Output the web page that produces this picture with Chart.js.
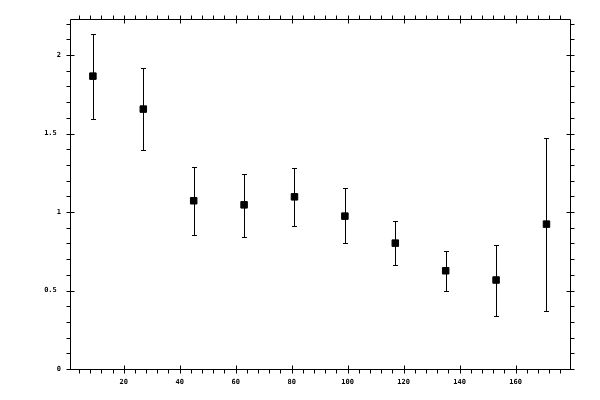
<!DOCTYPE html>
<html>
<head>
<meta charset="utf-8">
<script src="https://cdn.jsdelivr.net/npm/chart.js@4/dist/chart.umd.min.js"></script>
<style>
  html, body { margin: 0; padding: 0; background: #fff; }
  .canvas-container { width: 600px; height: 400px; }
</style>
</head>
<body>
<div class="canvas-container">
  <canvas id="chart"></canvas>
</div>
<script>
// values
const xValues = [9, 27, 45, 63, 81, 99, 117, 135, 153, 171];
const yValues = [1.866, 1.656, 1.072, 1.046, 1.097, 0.974, 0.802, 0.626, 0.567, 0.923];
const yHigh = [2.134, 1.917, 1.287, 1.242, 1.280, 1.153, 0.943, 0.751, 0.790, 1.471];
const yLow = [1.594, 1.395, 0.853, 0.841, 0.911, 0.802, 0.662, 0.497, 0.338, 0.369];

const xTicks = [20, 40, 60, 80, 100, 120, 140, 160];
const yTicks = [0, 0.5, 1, 1.5, 2];
const xMinor = [4, 8, 12, 16, 24, 28, 32, 36, 44, 48, 52, 56, 64, 68, 72, 76, 84, 88, 92, 96,
  104, 108, 112, 116, 124, 128, 132, 136, 144, 148, 152, 156, 164, 168, 172, 176];
const yMinor = [0.1, 0.2, 0.3, 0.4, 0.6, 0.7, 0.8, 0.9, 1.1, 1.2, 1.3, 1.4, 1.6, 1.7, 1.8, 1.9, 2.1, 2.2];

const errorBars = {
  id: 'errorBars',
  afterDatasetsDraw(chart) {
    const ctx = chart.ctx;
    const x = chart.scales.x, y = chart.scales.y;
    ctx.save();
    ctx.strokeStyle = '#000';
    ctx.lineWidth = 1;
    xValues.forEach((v, i) => {
      const px = Math.round(x.getPixelForValue(v)) + 0.5;
      const top = Math.round(y.getPixelForValue(yHigh[i])) + 0.5;
      const bot = Math.round(y.getPixelForValue(yLow[i])) + 0.5;
      ctx.beginPath();
      ctx.moveTo(px, top); ctx.lineTo(px, bot);
      ctx.moveTo(px - 2.5, top); ctx.lineTo(px + 2.5, top);
      ctx.moveTo(px - 2.5, bot); ctx.lineTo(px + 2.5, bot);
      ctx.stroke();
    });
    ctx.restore();
  }
};

// frame with ticks on all four sides (majors cross the line, minors point out)
const frame = {
  id: 'frame',
  beforeDatasetsDraw(chart) {
    const ctx = chart.ctx;
    const a = chart.chartArea;
    const x = chart.scales.x, y = chart.scales.y;
    const L = Math.round(a.left) + 0.5, R = Math.round(a.right) + 0.5;
    const T = Math.round(a.top) + 0.5, B = Math.round(a.bottom) + 0.5;
    ctx.save();
    ctx.strokeStyle = '#000';
    ctx.lineWidth = 1;
    ctx.beginPath();
    ctx.rect(L, T, R - L, B - T);
    const xt = (v, inner) => {
      const px = Math.round(x.getPixelForValue(v)) + 0.5;
      ctx.moveTo(px, B + 4); ctx.lineTo(px, B - inner);
      ctx.moveTo(px, T - 4); ctx.lineTo(px, T + inner);
    };
    const yt = (v, inner) => {
      const py = Math.round(y.getPixelForValue(v)) + 0.5;
      ctx.moveTo(L - 4, py); ctx.lineTo(L + inner, py);
      ctx.moveTo(R + 4, py); ctx.lineTo(R - inner, py);
    };
    xMinor.forEach(v => xt(v, 0));
    xTicks.forEach(v => xt(v, 4));
    yMinor.forEach(v => yt(v, 0));
    yTicks.forEach(v => yt(v, 4));
    ctx.stroke();
    ctx.restore();
  }
};

const tickFont = { family: '"DejaVu Sans Mono", monospace', size: 7, weight: 'bold' };

new Chart(document.getElementById('chart').getContext('2d'), {
  type: 'scatter',
  data: {
    datasets: [{
      data: xValues.map((v, i) => ({ x: v, y: yValues[i] })),
      pointStyle: 'rect',
      pointRadius: 4.6,
      borderWidth: 1,
      borderColor: '#000',
      backgroundColor: '#000'
    }]
  },
  options: {
    responsive: true,
    maintainAspectRatio: false,
    animation: false,
    layout: { padding: { left: 0, right: 30, top: 19, bottom: 0 } },
    plugins: {
      legend: { display: false },
      tooltip: { enabled: false }
    },
    scales: {
      x: {
        type: 'linear',
        min: 0.82,
        max: 179.4,
        grid: { display: false, drawTicks: false },
        border: { display: false },
        afterBuildTicks: s => { s.ticks = xTicks.map(v => ({ value: v })); },
        afterFit: s => { s.height = 31; },
        ticks: { color: '#000', font: tickFont, padding: 9, maxRotation: 0, autoSkip: false }
      },
      y: {
        type: 'linear',
        min: 0,
        max: 2.23,
        grid: { display: false, drawTicks: false },
        border: { display: false },
        afterBuildTicks: s => { s.ticks = yTicks.map(v => ({ value: v })); },
        afterFit: s => { s.width = 70; },
        ticks: {
          color: '#000', font: tickFont, padding: 9, autoSkip: false,
          callback: v => (Number.isInteger(v) ? String(v) : v + ' ')
        }
      }
    }
  },
  plugins: [frame, errorBars]
});
</script>
</body>
</html>
